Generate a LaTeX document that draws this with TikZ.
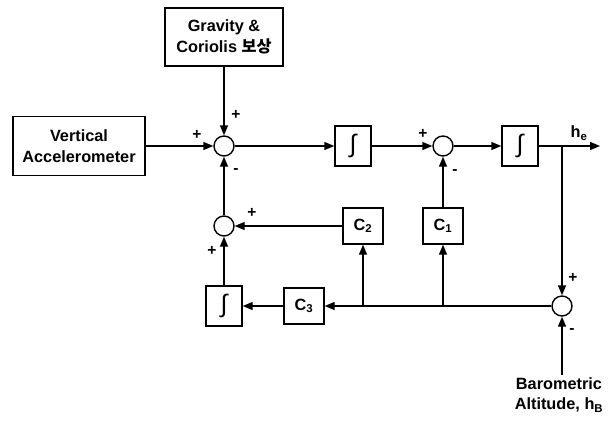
\documentclass[tikz,border=0pt]{standalone}
\usepackage{fontspec}
\setmainfont{Liberation Sans}
\newfontfamily\krfont{Noto Sans CJK KR}
\usetikzlibrary{arrows.meta, positioning}

\begin{document}
\begin{tikzpicture}[
x=1pt, y=-1pt,
every node/.style={font=\fontsize{16.3}{20.5}\selectfont\bfseries, align=center},
boxnode/.style={rectangle, draw=black, line width=1.4pt, inner sep=2pt},
srcnode/.style={boxnode, minimum width=132pt, minimum height=59pt},
intnode/.style={boxnode, minimum width=36pt, minimum height=40pt, font=\fontsize{25}{25}\selectfont\mdseries},
gainnode/.style={boxnode, minimum width=40pt, minimum height=36pt},
sumnode/.style={circle, draw=black, line width=1.4pt, minimum size=20pt, inner sep=0pt},
signnode/.style={font=\fontsize{15.5}{15.5}\selectfont\bfseries, inner sep=0pt},
arrownode/.style={-{Triangle[length=10pt, width=8pt]}, line width=1.4pt}
]
\useasboundingbox (0,0) rectangle (609,426);

% forward path
\node[srcnode] (accel) at (79,146) {Vertical\\Accelerometer};
\node[srcnode, minimum width=118pt, minimum height=58pt] (grav) at (224,37) {Gravity \&\\Coriolis {\krfont 보상}};
\node[sumnode] (sumin) at (224,146) {};
\node[intnode] (intv) at (353,146) {∫};
\node[sumnode] (sumv) at (443,146) {};
\node[intnode] (inth) at (520,146) {∫};
\coordinate (hout) at (600,146);
\coordinate (split) at (562,146);
\node (helabel) at (579,133) {h\textsubscript{e}};

% correction loop
\node[sumnode] (sumb) at (562,306) {};
\node[anchor=north, inner sep=2pt] (baro) at (559,375) {Barometric\\Altitude, h\textsubscript{B}};
\node[gainnode] (gainc2) at (363,226) {C\textsubscript{2}};
\node[gainnode] (gainc1) at (443,226) {C\textsubscript{1}};
\node[gainnode] (gainc3) at (304,306) {C\textsubscript{3}};
\node[intnode] (intc) at (224,306) {∫};
\node[sumnode] (sumc) at (224,226) {};
\coordinate (tapc1) at (gainc1 |- sumb);
\coordinate (tapc2) at (gainc2 |- sumb);

% signs
\node[signnode] (pgrav) at (236,115) {+};
\node[signnode] (pacc) at (197,135) {+};
\node[signnode] (mfb) at (236,171) {-};
\node[signnode] (pc2) at (252,213) {+};
\node[signnode] (pint) at (212,251) {+};
\node[signnode] (pv) at (423,134) {+};
\node[signnode] (mc1) at (455,172) {-};
\node[signnode] (pb) at (573,278) {+};
\node[signnode] (mbaro) at (572,331) {-};

\draw[arrownode] (accel) -- (sumin);
\draw[arrownode] (grav) -- (sumin);
\draw[arrownode] (sumin) -- (intv);
\draw[arrownode] (intv) -- (sumv);
\draw[arrownode] (sumv) -- (inth);
\draw[arrownode] (inth) -- (hout);
\draw[arrownode] (split) -- (sumb);
\draw[arrownode] (sumb |- baro.north) -- (sumb);
\draw[arrownode] (sumb) -- (gainc3);
\draw[arrownode] (tapc1) -- (gainc1);
\draw[arrownode] (gainc1) -- (sumv);
\draw[arrownode] (tapc2) -- (gainc2);
\draw[arrownode] (gainc2) -- (sumc);
\draw[arrownode] (gainc3) -- (intc);
\draw[arrownode] (intc) -- (sumc);
\draw[arrownode] (sumc) -- (sumin);

\end{tikzpicture}
\end{document}
